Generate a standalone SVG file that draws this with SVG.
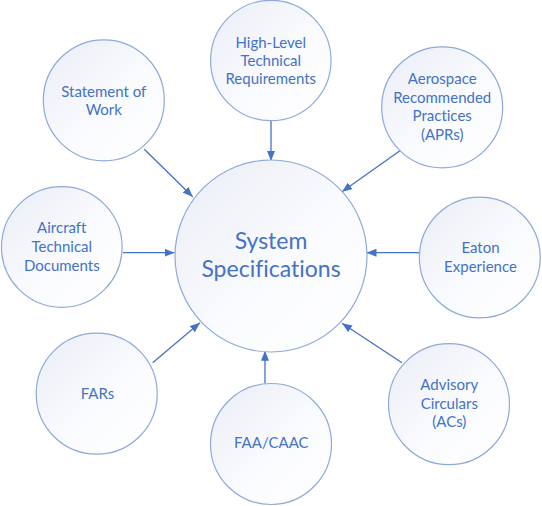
<svg xmlns="http://www.w3.org/2000/svg" width="542" height="506" viewBox="0 0 542 506">
  <defs>
    <linearGradient id="fillGrad" x1="0" y1="0" x2="1" y2="1">
      <stop offset="0" stop-color="#EAEDF6"/>
      <stop offset="0.55" stop-color="#FAFBFE"/>
      <stop offset="1" stop-color="#FFFFFF"/>
    </linearGradient>
    <marker id="arrow" markerUnits="userSpaceOnUse" markerWidth="10" markerHeight="8" refX="10" refY="4" orient="auto">
      <path d="M0,0 L10,4 L0,8 z" fill="#4472C4"/>
    </marker>
    <style>
      .node { fill: url(#fillGrad); stroke: #8EA9DB; stroke-width: 1.2; }
      .lbl { font-family: Lato, "Liberation Sans", sans-serif; font-size: 15px; fill: #4472C4; text-anchor: middle; font-variant-ligatures: none; font-feature-settings: "liga" 0, "clig" 0; }
      .big { font-family: Lato, "Liberation Sans", sans-serif; font-size: 23px; fill: #4472C4; text-anchor: middle; font-variant-ligatures: none; font-feature-settings: "liga" 0, "clig" 0; }
      .conn { stroke: #4472C4; stroke-width: 1.3; fill: none; marker-end: url(#arrow); }
    </style>
  </defs>
  <rect width="542" height="506" fill="#FFFFFF"/>

  <g id="connectors">
    <line class="conn" x1="144.3" y1="149.3" x2="192.7" y2="196.7"/>
    <line class="conn" x1="271" y1="121" x2="271" y2="161"/>
    <line class="conn" x1="401" y1="150" x2="342" y2="191.7"/>
    <line class="conn" x1="123" y1="252.7" x2="174.5" y2="252.7"/>
    <line class="conn" x1="419.5" y1="252.7" x2="366.5" y2="252.7"/>
    <line class="conn" x1="152.7" y1="362.7" x2="200" y2="322.7"/>
    <line class="conn" x1="265" y1="383.5" x2="265" y2="350.7"/>
    <line class="conn" x1="402" y1="362.7" x2="342" y2="323.3"/>
  </g>

  <g id="system-specifications">
    <circle class="node" cx="271" cy="256" r="96"/>
    <text class="big" x="271" y="249.3">System</text>
    <text class="big" x="271" y="276.7">Specifications</text>
  </g>

  <g id="statement-of-work">
    <circle class="node" cx="103.8" cy="100.3" r="60.5"/>
    <text class="lbl" x="103.8" y="96.7">Statement of</text>
    <text class="lbl" x="103.8" y="115">Work</text>
  </g>

  <g id="high-level-requirements">
    <circle class="node" cx="270.8" cy="60.5" r="60.2"/>
    <text class="lbl" x="270.8" y="47.7">High-Level</text>
    <text class="lbl" x="270.8" y="66">Technical</text>
    <text class="lbl" x="270.8" y="84.3">Requirements</text>
  </g>

  <g id="aprs">
    <circle class="node" cx="442.2" cy="107.3" r="60.5"/>
    <text class="lbl" x="442.2" y="84">Aerospace</text>
    <text class="lbl" x="442.2" y="102.5">Recommended</text>
    <text class="lbl" x="442.2" y="121">Practices</text>
    <text class="lbl" x="442.2" y="139.5">(APRs)</text>
  </g>

  <g id="aircraft-technical-documents">
    <circle class="node" cx="61.8" cy="247" r="60.3"/>
    <text class="lbl" x="61.8" y="233.3">Aircraft</text>
    <text class="lbl" x="61.8" y="252">Technical</text>
    <text class="lbl" x="61.8" y="271">Documents</text>
  </g>

  <g id="eaton-experience">
    <circle class="node" cx="479.8" cy="257.5" r="60.4"/>
    <text class="lbl" x="480.5" y="253.3">Eaton</text>
    <text class="lbl" x="480.5" y="272">Experience</text>
  </g>

  <g id="fars">
    <circle class="node" cx="96.7" cy="393.7" r="60.5"/>
    <text class="lbl" x="97.5" y="399">FARs</text>
  </g>

  <g id="faa-caac">
    <circle class="node" cx="271" cy="444" r="60.5"/>
    <text class="lbl" x="271.3" y="448.3">FAA/CAAC</text>
  </g>

  <g id="advisory-circulars">
    <circle class="node" cx="449" cy="404.2" r="60.5"/>
    <text class="lbl" x="449.3" y="390">Advisory</text>
    <text class="lbl" x="449.3" y="408.5">Circulars</text>
    <text class="lbl" x="449.3" y="427">(ACs)</text>
  </g>
</svg>
